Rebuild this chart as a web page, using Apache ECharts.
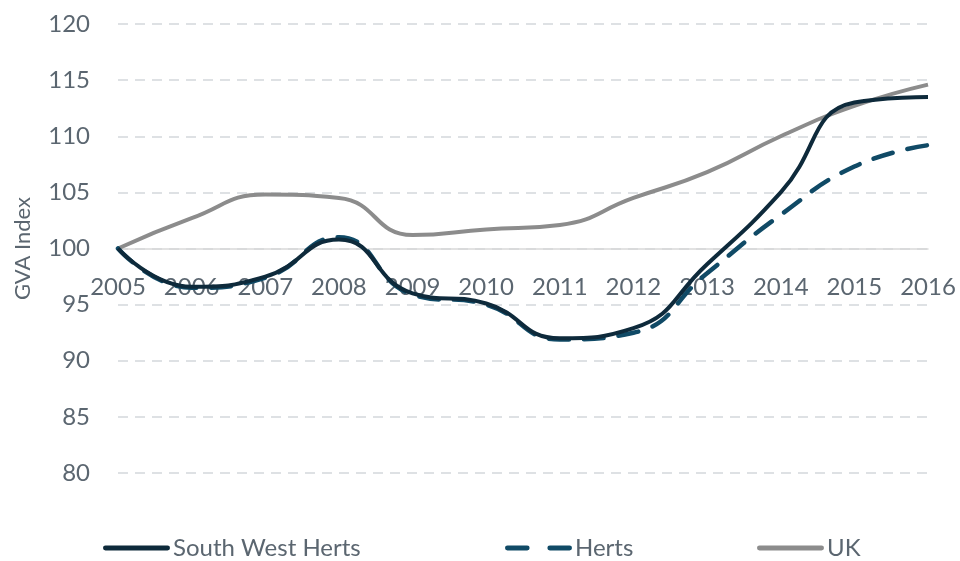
<!DOCTYPE html>
<html>
<head>
<meta charset="utf-8">
<script src="https://cdn.jsdelivr.net/npm/echarts@6/dist/echarts.min.js"></script>
<style>
  html, body { margin: 0; padding: 0; background: #fff; }
  #chart { width: 960px; height: 561px; }
</style>
</head>
<body>
<div id="chart"></div>
<script>
// 数据
var years = ['2005', '2006', '2007', '2008', '2009', '2010', '2011', '2012', '2013', '2014', '2015', '2016'];
var swHerts = [100, 96.6, 97.5, 100.8, 96.0, 95.1, 92.0, 92.9, 98.6, 105.0, 113.0, 113.5];
var herts = [100, 96.5, 97.4, 101.0, 95.9, 95.0, 91.9, 92.5, 97.8, 103.0, 107.3, 109.2];
var uk = [100, 102.7, 104.8, 104.5, 101.2, 101.7, 102.1, 104.5, 106.8, 110.0, 112.7, 114.6];

var chart = echarts.init(document.getElementById('chart'));
var textColor = '#5b6670';
var font = 'Lato';

// 图例：每项单独定位
function legendAt(name, left, icon) {
    return {
        data: [{ name: name, icon: icon }],
        left: left,
        bottom: -4,
        itemWidth: 67,
        itemHeight: 5,
        itemGap: 0,
        textStyle: { fontSize: 24, color: textColor, fontFamily: font, padding: [0, 0, 0, -2] }
    };
}

var solidIcon = 'path://M2,0h63a2,2 0 0 1 0,5h-63a2,2 0 0 1 0,-5z';
var dashIcon = 'path://M2,0h20a2,2 0 0 1 0,5h-20a2,2 0 0 1 0,-5z M45,0h20a2,2 0 0 1 0,5h-20a2,2 0 0 1 0,-5z';

var option = {
    animation: false,
    grid: { left: 118, right: 32, top: 24, bottom: 88 },
    legend: [
        legendAt('South West Herts', 98, solidIcon),
        legendAt('Herts', 500, dashIcon),
        legendAt('UK', 752, solidIcon)
    ],
    xAxis: {
        type: 'category',
        data: years,
        boundaryGap: false,
        offset: -224,
        axisLine: { lineStyle: { color: '#d9d9d9', width: 1.5 } },
        axisTick: { show: false },
        axisLabel: { fontSize: 24, color: textColor, fontFamily: font, margin: 26 }
    },
    yAxis: {
        type: 'value',
        min: 80,
        max: 120,
        interval: 5,
        name: 'GVA Index',
        nameLocation: 'middle',
        nameGap: 84,
        nameRotate: 90,
        nameTextStyle: { fontSize: 22, color: textColor, fontFamily: font },
        axisLine: { show: false },
        axisTick: { show: false },
        axisLabel: { fontSize: 24, color: textColor, fontFamily: font, margin: 28 },
        splitLine: { lineStyle: { color: '#d3d7db', width: 1.5, type: [10, 7] } }
    },
    series: [
        {
            name: 'South West Herts',
            type: 'line',
            data: swHerts,
            smooth: 0.5,
            symbol: 'none',
            z: 4,
            itemStyle: { color: '#0e2a3b' },
            lineStyle: { color: '#0e2a3b', width: 4 }
        },
        {
            name: 'Herts',
            type: 'line',
            data: herts,
            smooth: 0.5,
            symbol: 'none',
            z: 3,
            itemStyle: { color: '#104a66' },
            lineStyle: { color: '#104a66', width: 4.5, type: [20, 15], cap: 'round' }
        },
        {
            name: 'UK',
            type: 'line',
            data: uk,
            smooth: 0.5,
            symbol: 'none',
            z: 2,
            itemStyle: { color: '#8c8c8c' },
            lineStyle: { color: '#8c8c8c', width: 4 }
        }
    ]
};

chart.setOption(option);

window.addEventListener('resize', function() {
    chart.resize();
});
</script>
</body>
</html>
